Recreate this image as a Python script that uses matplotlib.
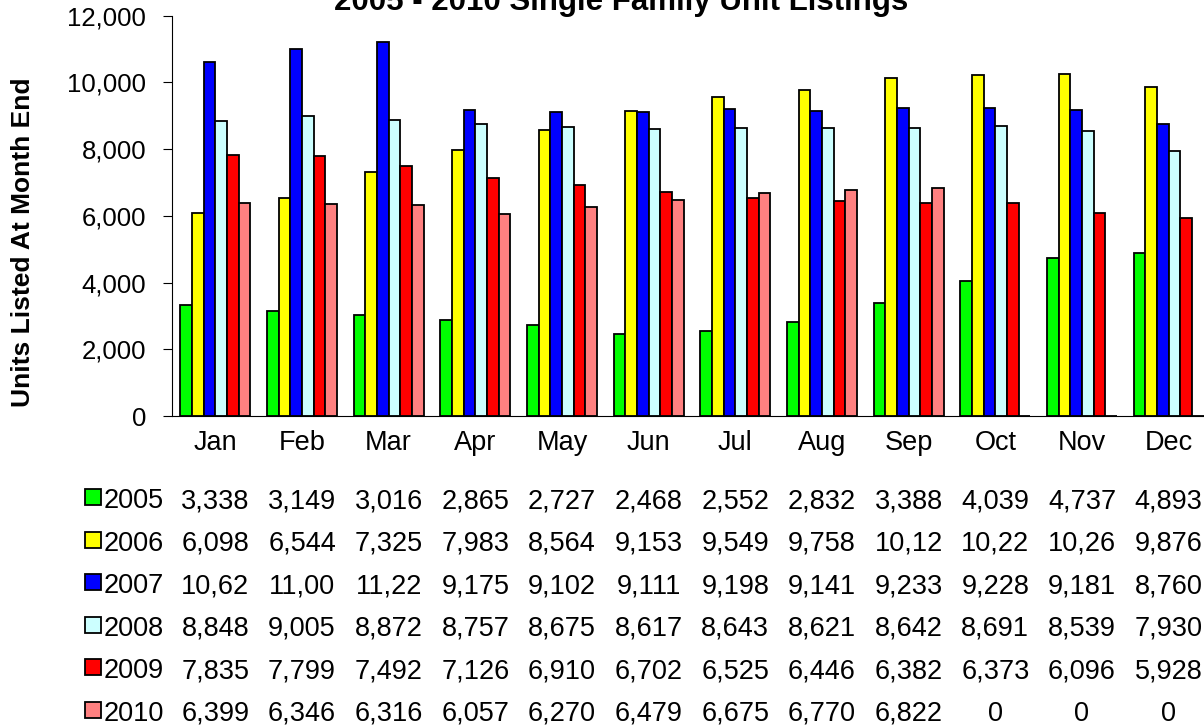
import numpy as np
import matplotlib
matplotlib.use("Agg")
import matplotlib.pyplot as plt
import matplotlib.transforms as mtrans
from matplotlib.patches import Rectangle

plt.rcParams['font.family'] = ['Liberation Sans', 'DejaVu Sans']

months = ['Jan', 'Feb', 'Mar', 'Apr', 'May', 'Jun', 'Jul', 'Aug', 'Sep', 'Oct', 'Nov', 'Dec']
years = ['2005', '2006', '2007', '2008', '2009', '2010']
colors = ['#00FF00', '#FFFF00', '#0000FF', '#CCFFFF', '#FF0000', '#FF8080']

y2005 = [3338, 3149, 3016, 2865, 2727, 2468, 2552, 2832, 3388, 4039, 4737, 4893]
y2006 = [6098, 6544, 7325, 7983, 8564, 9153, 9549, 9758, 10120, 10220, 10260, 9876]
y2007 = [10620, 11000, 11220, 9175, 9102, 9111, 9198, 9141, 9233, 9228, 9181, 8760]
y2008 = [8848, 9005, 8872, 8757, 8675, 8617, 8643, 8621, 8642, 8691, 8539, 7930]
y2009 = [7835, 7799, 7492, 7126, 6910, 6702, 6525, 6446, 6382, 6373, 6096, 5928]
y2010 = [6399, 6346, 6316, 6057, 6270, 6479, 6675, 6770, 6822, 0, 0, 0]
series = [y2005, y2006, y2007, y2008, y2009, y2010]

W, H = 1204, 728
fig = plt.figure(figsize=(W / 100, H / 100), dpi=100)
ax = fig.add_axes([172 / W, 1 - 416 / H, (1212 - 172) / W, (416 - 15.7) / H])

x = np.arange(len(months))
bw = 0.1345
for k, (vals, c) in enumerate(zip(series, colors)):
    ax.bar(x + (k - 2.5) * bw, vals, bw, color=c, edgecolor='black', linewidth=1.3, zorder=2)

ax.set_xlim(-0.5, 11.5)
ax.set_ylim(0, 12000)
ax.set_yticks(np.arange(0, 12001, 2000))
ax.yaxis.set_major_formatter(matplotlib.ticker.FuncFormatter(lambda v, p: f'{int(v):,}'))
ax.tick_params(axis='y', direction='out', length=6.5, width=0.8, pad=12, labelsize=18.5)
ax.set_xticks(x)
ax.set_xticklabels(months)
ax.tick_params(axis='x', length=0, pad=10, labelsize=19.5)
for s in ['top', 'right']:
    ax.spines[s].set_visible(False)
for s in ['left', 'bottom']:
    ax.spines[s].set_linewidth(0.8)

ax.set_ylabel('Units Listed At Month End', fontsize=19, fontweight='bold')
ax.yaxis.set_label_coords(23 / W, 1 - 242 / H, transform=fig.transFigure)
ax.yaxis.label.set_va('center')

fig.text(621 / W, 1 - 10 / H, '2005 - 2010 Single Family Unit Listings',
         ha='center', va='baseline', fontsize=22.5, fontweight='bold')

# data table below the chart
tr = mtrans.blended_transform_factory(ax.transData, fig.transFigure)
for r, (yr, vals, c) in enumerate(zip(years, series, colors)):
    base = 508 + r * 42.6
    fig.add_artist(Rectangle((85 / W, 1 - (base - 3) / H), 16 / W, 16 / H,
                             transform=fig.transFigure, facecolor=c,
                             edgecolor='black', linewidth=1.3))
    fig.text(104 / W, 1 - base / H, yr, ha='left', va='baseline', fontsize=19.5)
    for i, v in enumerate(vals):
        ax.text(x[i], 1 - base / H, f'{v:,}'[:5], transform=tr,
                ha='center', va='baseline', fontsize=19.5)

fig.savefig('out.png', dpi=100)
